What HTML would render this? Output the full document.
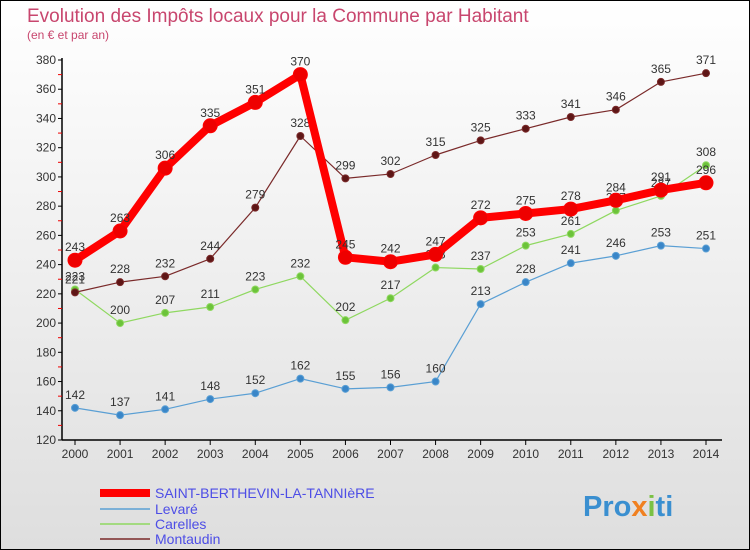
<!DOCTYPE html>
<html><head><meta charset="utf-8"><style>
body{margin:0}
svg{display:block;font-family:"Liberation Sans","DejaVu Sans",sans-serif}
</style></head><body>
<svg width="750" height="550" viewBox="0 0 750 550">
<defs><linearGradient id="bg" x1="0" y1="0" x2="0" y2="1"><stop offset="0" stop-color="#ffffff"/><stop offset="1" stop-color="#dedede"/></linearGradient></defs>
<rect x="0.5" y="0.5" width="749" height="549" fill="url(#bg)" stroke="#000"/>
<text x="27" y="22" font-size="19" fill="#c8466e">Evolution des Impôts locaux pour la Commune par Habitant</text>
<text x="27" y="39" font-size="12" fill="#c8466e">(en € et par an)</text>
<g id="axes"></g>
<g id="series"></g>
<g id="legend"></g>
<text x="583" y="516" font-size="29" font-weight="bold" fill="#3a8fd0">Pro<tspan fill="#f08020">x</tspan><tspan fill="#7ac143">i</tspan>ti</text>
</svg>
<script>
const years=[2000,2001,2002,2003,2004,2005,2006,2007,2008,2009,2010,2011,2012,2013,2014];
const yTicks=[120,140,160,180,200,220,240,260,280,300,320,340,360,380];
const saint=[243,263,306,335,351,370,245,242,247,272,275,278,284,291,296];
const levare=[142,137,141,148,152,162,155,156,160,213,228,241,246,253,251];
const carelles=[223,200,207,211,223,232,202,217,238,237,253,261,277,287,308];
const montaudin=[221,228,232,244,279,328,299,302,315,325,333,341,346,365,371];
const NS='http://www.w3.org/2000/svg';
function X(i){return 75+i*(706-75)/14;}
function Y(v){return 440-(v-120)*380/260;}
function mk(t,a,p){const e=document.createElementNS(NS,t);for(const k in a)e.setAttribute(k,a[k]);p.appendChild(e);return e;}
const ax=document.getElementById('axes');
const yl=mk('line',{x1:62,y1:58,x2:62,y2:440,stroke:'#000','stroke-width':1.5},ax);

const xl=mk('line',{x1:62,y1:440,x2:722,y2:440,stroke:'#000','stroke-width':1.5},ax);

yTicks.forEach((v,i)=>{
 mk('line',{x1:58,y1:Y(v),x2:62,y2:Y(v),stroke:'#000'},ax);
 if(i<yTicks.length-1) mk('line',{x1:58,y1:Y(v+10),x2:62,y2:Y(v+10),stroke:'#e00'},ax);
 const t=mk('text',{x:56,y:Y(v)+4,'font-size':12,'text-anchor':'end',fill:'#333'},ax);t.textContent=v;
 
});
years.forEach((y,i)=>{
 mk('line',{x1:X(i),y1:440,x2:X(i),y2:445,stroke:'#000'},ax);
 const t=mk('text',{x:X(i),y:458,'font-size':12,'text-anchor':'middle',fill:'#333'},ax);t.textContent=y;
 
});
const sg=document.getElementById('series');
function series(vals,color,dot,w,r,name){
 const g=mk('g',{},sg);
 
 mk('polyline',{points:vals.map((v,i)=>X(i)+','+Y(v)).join(' '),fill:'none',stroke:color,'stroke-width':w,'stroke-linejoin':'round'},g);
 vals.forEach((v,i)=>{
  const c=mk('circle',{cx:X(i),cy:Y(v),r:r,fill:dot,stroke:color,'stroke-width':1},g);
  
  const t=mk('text',{x:X(i),y:Y(v)-9,'font-size':12,'text-anchor':'middle',fill:'#333'},g);t.textContent=v;
  
 });
}
series(levare,'#5a9fd4','#3a86c8',1.2,3.5,'series-levare');
series(carelles,'#8fd860','#6cc33a',1.2,3.5,'series-carelles');
series(montaudin,'#7a2a2a','#5e1616',1.2,3.5,'series-montaudin');
series(saint,'#ff0000','#ee0000',8,7,'series-saint-berthevin');
const lg=document.getElementById('legend');
const items=[['SAINT-BERTHEVIN-LA-TANNIèRE','#ff0000',8,493],['Levaré','#5a9fd4',1.5,509],['Carelles','#8fd860',1.5,524],['Montaudin','#7a2a2a',1.5,539]];
items.forEach(it=>{
 const g=mk('g',{},lg);
 
 mk('line',{x1:100,y1:it[3],x2:150,y2:it[3],stroke:it[1],'stroke-width':it[2]},g);
 const t=mk('text',{x:155,y:it[3]+5,'font-size':14,fill:'#4d4de6'},g);t.textContent=it[0];
});
</script>
</body></html>
